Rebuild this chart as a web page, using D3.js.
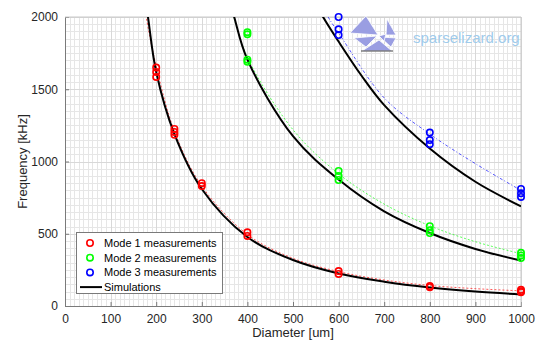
<!DOCTYPE html>
<html>
<head>
<meta charset="utf-8">
<script src="https://cdn.jsdelivr.net/npm/d3@7"></script>
<style>
  body { margin: 0; background: #fff; }
  svg { font-family: "Liberation Sans", Arial, sans-serif; }
</style>
</head>
<body>
<div id="chart"></div>
<script>
// Measurements, [diameter um, frequency kHz]
const mode1Meas = [[200,1650],[200,1620],[200,1585],[240,1225],[240,1205],[240,1185],
  [300,850],[300,830],[400,510],[400,485],[600,242],[600,222],[800,138],[800,130],
  [1000,112],[1000,102],[1000,96]];
const mode2Meas = [[400,1895],[400,1880],[400,1705],[400,1690],[600,935],[600,900],[600,872],
  [800,552],[800,525],[800,505],[1000,368],[1000,350],[1000,332]];
const mode3Meas = [[600,2000],[600,1915],[600,1875],[800,1200],[800,1148],[800,1120],
  [1000,810],[1000,780],[1000,755]];

// Fits through the measurements (dotted), first point lies above the axis top
const mode1Fit = [[171,2150],[178,2000],[200,1660],[240,1210],[300,830],[400,495],[500,330],[600,238],[700,180],[800,142],[900,120],[1000,105]];
const mode2Fit = [[357,2150],[370,2000],[400,1720],[500,1220],[600,915],[700,705],[800,555],[900,445],[1000,362]];
const mode3Fit = [[553,2150],[577,2000],[600,1890],[700,1440],[800,1190],[900,985],[1000,800]];

// Simulations (solid black)
const mode1Sim = [[175,2150],[182,2000],[200,1620],[240,1190],[300,810],[400,478],[500,318],[600,225],[700,168],[800,128],[900,100],[1000,80]];
const mode2Sim = [[358,2150],[371,2000],[400,1705],[500,1175],[600,875],[700,655],[800,505],[900,395],[1000,315]];
const mode3Sim = [[541,2150],[566,2000],[600,1830],[650,1595],[700,1390],[800,1090],[900,860],[1000,690]];

const xTicks = d3.range(0, 1001, 100);
const yTicks = [0, 500, 1000, 1500, 2000];
const legendItems = ["Mode 1 measurements", "Mode 2 measurements", "Mode 3 measurements", "Simulations"];

const width = 536, height = 345;
const m = { left: 65, right: 15, top: 17, bottom: 39 };

const svg = d3.select("#chart").append("svg")
  .attr("width", width).attr("height", height);

const x = d3.scaleLinear().domain([0, 1000]).range([m.left, width - m.right]);
const y = d3.scaleLinear().domain([0, 2000]).range([height - m.bottom, m.top]);

svg.append("defs").append("clipPath").attr("id", "plot")
  .append("rect")
  .attr("x", x(0)).attr("y", y(2000))
  .attr("width", x(1000) - x(0)).attr("height", y(0) - y(2000));

// minor grid
const grid = svg.append("g");
grid.selectAll(".mx").data(d3.range(0, 1001, 10)).join("line")
  .attr("x1", d => Math.round(x(d)) + 0.5).attr("x2", d => Math.round(x(d)) + 0.5)
  .attr("y1", y(0)).attr("y2", y(2000))
  .attr("stroke", "#e6e6e6").attr("stroke-width", 1);
grid.selectAll(".my").data(d3.range(0, 2001, 50)).join("line")
  .attr("y1", d => Math.round(y(d)) + 0.5).attr("y2", d => Math.round(y(d)) + 0.5)
  .attr("x1", x(0)).attr("x2", x(1000))
  .attr("stroke", "#e6e6e6").attr("stroke-width", 1);
// major grid
grid.selectAll(".Mx").data(xTicks).join("line")
  .attr("x1", d => Math.round(x(d)) + 0.5).attr("x2", d => Math.round(x(d)) + 0.5)
  .attr("y1", y(0)).attr("y2", y(2000))
  .attr("stroke", "#d8d8d8");
grid.selectAll(".My").data(yTicks).join("line")
  .attr("y1", d => Math.round(y(d)) + 0.5).attr("y2", d => Math.round(y(d)) + 0.5)
  .attr("x1", x(0)).attr("x2", x(1000))
  .attr("stroke", "#d8d8d8");

// axes
const fmt = d3.format("d");
const xAxis = svg.append("g")
  .attr("transform", `translate(0,${y(0)})`)
  .call(d3.axisBottom(x).tickValues(xTicks).tickFormat(fmt).tickSize(-4).tickPadding(8));
const yAxis = svg.append("g")
  .attr("transform", `translate(${x(0)},0)`)
  .call(d3.axisLeft(y).tickValues(yTicks).tickFormat(fmt).tickSize(-4).tickPadding(7));
[xAxis, yAxis].forEach(a => {
  a.select(".domain").attr("stroke", "#7a7a7a");
  a.selectAll(".tick line").attr("stroke", "#7a7a7a");
  a.selectAll(".tick text").attr("fill", "#262626")
    .style("font-size", "12px").style("font-family", "Liberation Sans, Arial, sans-serif");
});
// top and right box edges
svg.append("line").attr("x1", x(0)).attr("x2", x(1000)).attr("y1", y(2000)).attr("y2", y(2000))
  .attr("stroke", "#c8c8c8");
svg.append("line").attr("x1", x(1000)).attr("x2", x(1000)).attr("y1", y(2000)).attr("y2", y(0))
  .attr("stroke", "#c8c8c8");

// axis labels
svg.append("text")
  .attr("x", (x(0) + x(1000)) / 2).attr("y", 337)
  .attr("text-anchor", "middle").attr("fill", "#262626")
  .style("font-size", "13px").text("Diameter [um]");
svg.append("text")
  .attr("transform", `translate(27,${(y(0) + y(2000)) / 2}) rotate(-90)`)
  .attr("text-anchor", "middle").attr("fill", "#262626")
  .style("font-size", "13px").text("Frequency [kHz]");

const line = d3.line().x(d => x(d[0])).y(d => y(d[1])).curve(d3.curveCatmullRom.alpha(0.5));
const plot = svg.append("g").attr("clip-path", "url(#plot)");

// dotted fits
[[mode1Fit, "#ff0000", "2,2"], [mode2Fit, "#00ff00", "2,2"], [mode3Fit, "#0000ff", "3,2,1,2"]]
  .forEach(([data, c, dash]) => {
    plot.append("path").datum(data).attr("d", line)
      .attr("fill", "none").attr("stroke", c).attr("stroke-width", 1)
      .attr("stroke-opacity", 0.65).attr("stroke-dasharray", dash);
  });

// simulations
[mode1Sim, mode2Sim, mode3Sim].forEach(data => {
  plot.append("path").datum(data).attr("d", line)
    .attr("fill", "none").attr("stroke", "#000").attr("stroke-width", 2);
});

// measurement markers
[[mode1Meas, "#ff0000"], [mode2Meas, "#00ff00"], [mode3Meas, "#0000ff"]].forEach(([data, c]) => {
  svg.append("g").selectAll("circle").data(data).join("circle")
    .attr("cx", d => x(d[0])).attr("cy", d => y(d[1])).attr("r", 3.2)
    .attr("fill", "none").attr("stroke", c).attr("stroke-width", 1.6);
});

// legend
const lg = svg.append("g");
lg.append("rect").attr("x", 76.5).attr("y", 232.5).attr("width", 146).attr("height", 61)
  .attr("fill", "#fff").attr("stroke", "#7a7a7a");
const lColors = ["#ff0000", "#00ff00", "#0000ff"];
legendItems.forEach((t, i) => {
  const ly = 243 + i * 14.7;
  if (i < 3) {
    lg.append("circle").attr("cx", 90).attr("cy", ly).attr("r", 3.2)
      .attr("fill", "none").attr("stroke", lColors[i]).attr("stroke-width", 1.6);
  } else {
    lg.append("line").attr("x1", 80).attr("x2", 102).attr("y1", ly).attr("y2", ly)
      .attr("stroke", "#000").attr("stroke-width", 2);
  }
  lg.append("text").attr("x", 104).attr("y", ly + 4)
    .attr("fill", "#000").style("font-size", "11px").text(t);
});

// logo
const logo = svg.append("g").attr("fill", "#9a9ee2").attr("stroke", "#fff").attr("stroke-width", 0.8);
[
  [[350,33],[366,16],[378,35]],
  [[354,38],[377,36],[366,47]],
  [[387,19],[396,35],[386,35]],
  [[380,37],[396,38],[391,47]],
  [[362,51],[379,40],[392,51]],
  [[379,36],[386,34],[384,41]]
].forEach(p => logo.append("polygon").attr("points", p.map(d => d.join(",")).join(" ")));
logo.append("line").attr("x1", 361).attr("y1", 51).attr("x2", 393).attr("y2", 51)
  .attr("stroke", "#444").attr("stroke-width", 1);
svg.append("text").attr("x", 413).attr("y", 43)
  .attr("fill", "#9fcbeb").style("font-size", "15px").text("sparselizard.org");
</script>
</body>
</html>
